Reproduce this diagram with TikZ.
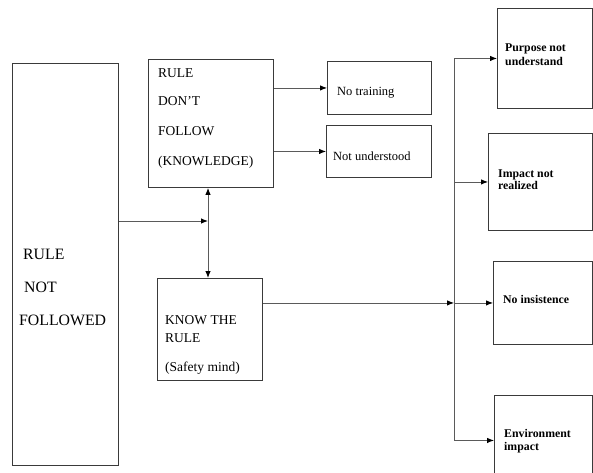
\documentclass[tikz,border=0pt]{standalone}
\usepackage{fontspec}
\setmainfont{Liberation Serif}
\usetikzlibrary{arrows.meta,calc,positioning}
\definecolor{Edge}{HTML}{3A3A3A}
\definecolor{Wire}{HTML}{5A5A5A}

\begin{document}
\begin{tikzpicture}[x=1pt,y=-1pt,
    box/.style={draw=Edge,line width=0.9pt,anchor=north west,inner sep=0pt},
    txt/.style={anchor=base west,inner sep=0pt,font=\fontsize{13.5}{15}\selectfont},
    big/.style={txt,font=\fontsize{15.8}{18}\selectfont},
    small/.style={txt,font=\fontsize{12.5}{14}\selectfont},
    bold/.style={txt,font=\fontsize{11.8}{13}\selectfont\bfseries},
    wire/.style={draw=Wire,line width=0.9pt},
    tip/.style={-{Latex[length=7pt,width=5.5pt,color=black]}},
    tips/.style={{Latex[length=7pt,width=5.5pt,color=black]}-{Latex[length=7pt,width=5.5pt,color=black]}}]
  \useasboundingbox (0,0) rectangle (593,472);

  % boxes
  \node[box,minimum width=106pt,minimum height=402pt] (nf) at (12,63) {};
  \node[box,minimum width=125pt,minimum height=128pt] (dontfollow) at (148,59) {};
  \node[box,minimum width=105pt,minimum height=102pt] (knowrule) at (157,278) {};
  \node[box,minimum width=104pt,minimum height=53pt] (notrain) at (327,61) {};
  \node[box,minimum width=105pt,minimum height=52pt] (notunder) at (326,125) {};
  \node[box,minimum width=95pt,minimum height=100pt] (purpose) at (497,8) {};
  \node[box,minimum width=104pt,minimum height=97pt] (impact) at (488,133) {};
  \node[box,minimum width=99pt,minimum height=83pt] (insist) at (493,261) {};
  \node[box,minimum width=98pt,minimum height=90pt] (envimp) at (494,395) {};

  % texts
  \node[big] (nf1) at (23,259) {RULE};
  \node[big] (nf2) at (24,292) {NOT};
  \node[big] (nf3) at (19,325) {FOLLOWED};

  \node[txt] (df1) at (158,77.5) {RULE};
  \node[txt] (df2) at (158,105.5) {DON'T};
  \node[txt] (df3) at (158,135) {FOLLOW};
  \node[txt] (df4) at (158,165) {(KNOWLEDGE)};

  \node[txt] (kr1) at (165,324.5) {KNOW THE};
  \node[txt] (kr2) at (165,342) {RULE};
  \node[txt] (kr3) at (165,371) {(Safety mind)};

  \node[small] (nt1) at (337,95) {No training};
  \node[small] (nu1) at (333,160.5) {Not understood};

  \node[bold] (pu1) at (505,51) {Purpose not};
  \node[bold] (pu2) at (505,65.5) {understand};
  \node[bold] (im1) at (498,177) {Impact not};
  \node[bold] (im2) at (498,189) {realized};
  \node[bold] (in1) at (503,303) {No insistence};
  \node[bold] (en1) at (504,437) {Environment};
  \node[bold] (en2) at (504,450) {impact};

  % connectors
  \coordinate (junc) at (208,221);
  \coordinate (bus) at (454,0);
  \draw[wire,tip] (nf.east |- junc) -- (junc);
  \draw[wire,tips] (junc |- dontfollow.south) -- (junc |- knowrule.north);
  \draw[wire,tip] (dontfollow.east |- notrain.west) -- (notrain.west);
  \draw[wire,tip] (dontfollow.east |- notunder.west) -- (notunder.west);
  \draw[wire] (bus |- purpose.west) -- (bus |- envimp.west);
  \draw[wire,tip] (knowrule.east |- insist.west) -- (bus |- insist.west);
  \foreach \b in {purpose,impact,insist,envimp}
    \draw[wire,tip] (bus |- \b.west) -- (\b.west);
\end{tikzpicture}
\end{document}
